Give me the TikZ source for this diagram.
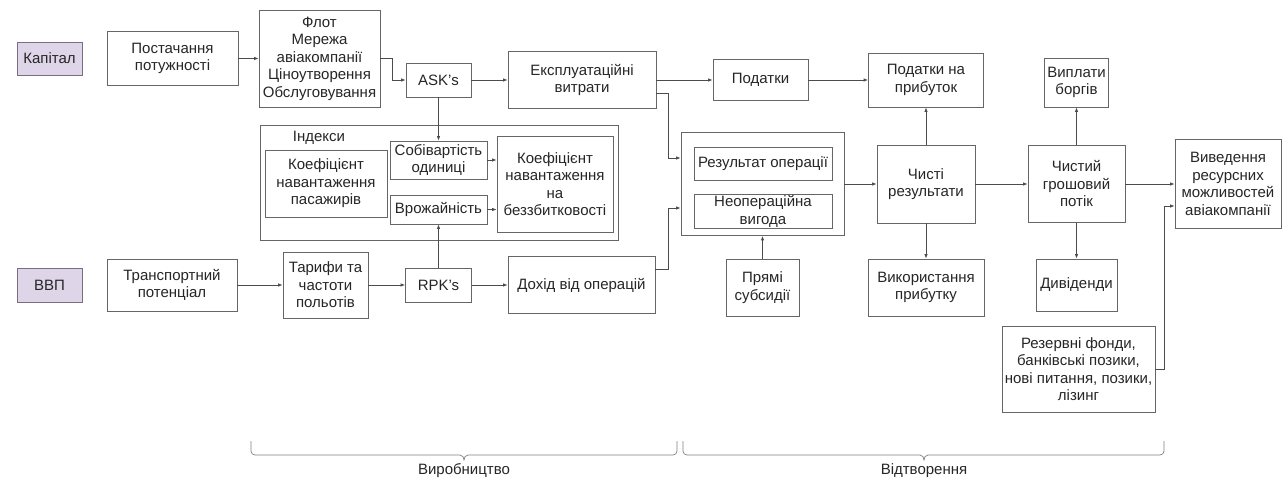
\documentclass[tikz,border=0pt]{standalone}
\usepackage{fontspec}
\setmainfont{Liberation Sans}
\usetikzlibrary{arrows.meta}
\newcommand\myfs{\fontsize{15}{17.5}\selectfont}
\definecolor{purp}{RGB}{222,213,232}
\definecolor{purpline}{RGB}{120,110,130}
\tikzset{
  box/.style={draw=black!60, line width=0.8pt, align=center, inner sep=1pt, text=black!85, font=\myfs},
  pbox/.style={box, fill=purp, draw=purpline},
  lbl/.style={align=center, inner sep=1pt, text=black!85, font=\myfs},
  arr/.style={draw=black!70, line width=0.8pt, -{Latex[length=4.5pt,width=3.5pt]}},
  brc/.style={draw=black!50, line width=0.7pt},
}
\begin{document}
\begin{tikzpicture}[x=1pt,y=-1pt]
\fill[white] (0,0) rectangle (1283,481);
\useasboundingbox (0,0) rectangle (1283,481);

% top row
\node[pbox, minimum width=65pt, minimum height=33pt] (kap) at (49.5,58.5) {Капітал};
\node[box, minimum width=131pt, minimum height=54pt] (post) at (172.5,58.5) {Постачання\\потужності};
\node[box, minimum width=121pt, minimum height=97pt] (flot) at (319.5,58.5) {Флот\\Мережа\\авіакомпанії\\Ціноутворення\\Обслуговування};
\node[box, minimum width=65pt, minimum height=34pt] (ask) at (438.5,80) {ASK's};
\node[box, minimum width=148pt, minimum height=57pt] (expl) at (582,80) {Експлуатаційні\\витрати};
\node[box, minimum width=95pt, minimum height=41pt] (pod) at (760.5,80) {Податки};
\node[box, minimum width=115pt, minimum height=54pt] (pnp) at (926,80) {Податки на\\прибуток};
\node[box, minimum width=64pt, minimum height=49pt] (vyp) at (1076.5,82.5) {Виплати\\боргів};

% indices group
\node[box, minimum width=358pt, minimum height=115pt] (ind) at (439,182.5) {};
\node[lbl] (indl) at (319,138) {Індекси};
\node[box, minimum width=122pt, minimum height=67pt] (kpas) at (326,183.5) {Коефіцієнт\\навантаження\\пасажирів};
\node[box, minimum width=97pt, minimum height=38pt] (sob) at (438.5,160) {Собівартість\\одиниці};
\node[box, minimum width=97pt, minimum height=29pt] (vro) at (438.5,209.5) {Врожайність};
\node[box, minimum width=116pt, minimum height=96pt] (kbez) at (555,184) {Коефіцієнт\\навантаження\\на\\беззбитковості};

% results group
\node[box, minimum width=163pt, minimum height=103pt] (res) at (762.5,184) {};
\node[box, minimum width=138pt, minimum height=33pt] (rop) at (763,163.5) {Результат операції};
\node[box, minimum width=138pt, minimum height=33pt] (nvyg) at (763,211.5) {Неопераційна\\вигода};
\node[box, minimum width=98pt, minimum height=78pt] (chr) at (926,184) {Чисті\\результати};
\node[box, minimum width=97pt, minimum height=77pt] (chgp) at (1076.5,184) {Чистий\\грошовий\\потік};
\node[box, minimum width=106pt, minimum height=89pt] (vyv) at (1228,184) {Виведення\\ресурсних\\можливостей\\авіакомпанії};

% bottom row
\node[pbox, minimum width=65pt, minimum height=34pt] (vvp) at (49.5,285) {ВВП};
\node[box, minimum width=130pt, minimum height=52pt] (trans) at (172,285) {Транспортний\\потенціал};
\node[box, minimum width=85pt, minimum height=66pt] (tar) at (325.5,285) {Тарифи та\\частоти\\польотів};
\node[box, minimum width=66pt, minimum height=34pt] (rpk) at (438.5,285) {RPK's};
\node[box, minimum width=147pt, minimum height=57pt] (doh) at (581.5,285) {Дохід від операцій};
\node[box, minimum width=73pt, minimum height=57pt] (pryam) at (762.5,287.5) {Прямі\\субсидії};
\node[box, minimum width=116pt, minimum height=57pt] (vykp) at (926,287.5) {Використання\\прибутку};
\node[box, minimum width=81pt, minimum height=52pt] (div) at (1076.5,285) {Дивіденди};
\node[box, minimum width=153pt, minimum height=86pt] (rez) at (1078.5,369) {Резервні фонди,\\банківські позики,\\нові питання, позики,\\лізинг};

% connectors
\draw[arr] (post) -- (flot);
\draw[arr] (flot.east) -- ++(12,0) |- (ask.west);
\draw[arr] (ask) -- (expl);
\draw[arr] (expl) -- (pod);
\draw[arr] (pod) -- (pnp);
\draw[arr] (expl.east |- 0,93) -- ++(12,0) |- (res.west |- 0,158);
\draw[arr] (ask) -- (sob);
\draw[arr] (rpk) -- (vro);
\draw[arr] (sob.east) -- (kbez.west |- sob.east);
\draw[arr] (vro.east) -- (kbez.west |- vro.east);
\draw[arr] (trans) -- (tar);
\draw[arr] (tar) -- (rpk);
\draw[arr] (rpk) -- (doh);
\draw[arr] (doh.east |- 0,269) -- ++(13,0) |- (res.west |- 0,208);
\draw[arr] (pryam) -- (res);
\draw[arr] (res) -- (chr);
\draw[arr] (chr) -- (pnp);
\draw[arr] (chr) -- (vykp);
\draw[arr] (chr) -- (chgp);
\draw[arr] (chgp) -- (vyp);
\draw[arr] (chgp) -- (div);
\draw[arr] (chgp) -- (vyv);
\draw[arr] (rez.east) -- ++(9,0) |- (vyv.west |- 0,206);

% braces
\draw[brc] (251,441) -- (251,451) to[out=-90,in=180] (255,455) -- (460,455)
  to[out=0,in=90] (464,460) to[out=90,in=180] (468,455) -- (673,455)
  to[out=0,in=-90] (677,451) -- (677,441);
\draw[brc] (683,441) -- (683,451) to[out=-90,in=180] (687,455) -- (920,455)
  to[out=0,in=90] (924,460) to[out=90,in=180] (928,455) -- (1160,455)
  to[out=0,in=-90] (1164,451) -- (1164,441);
\node[lbl] (prod) at (464,471) {Виробництво};
\node[lbl] (repr) at (924,471) {Відтворення};
\end{tikzpicture}
\end{document}
